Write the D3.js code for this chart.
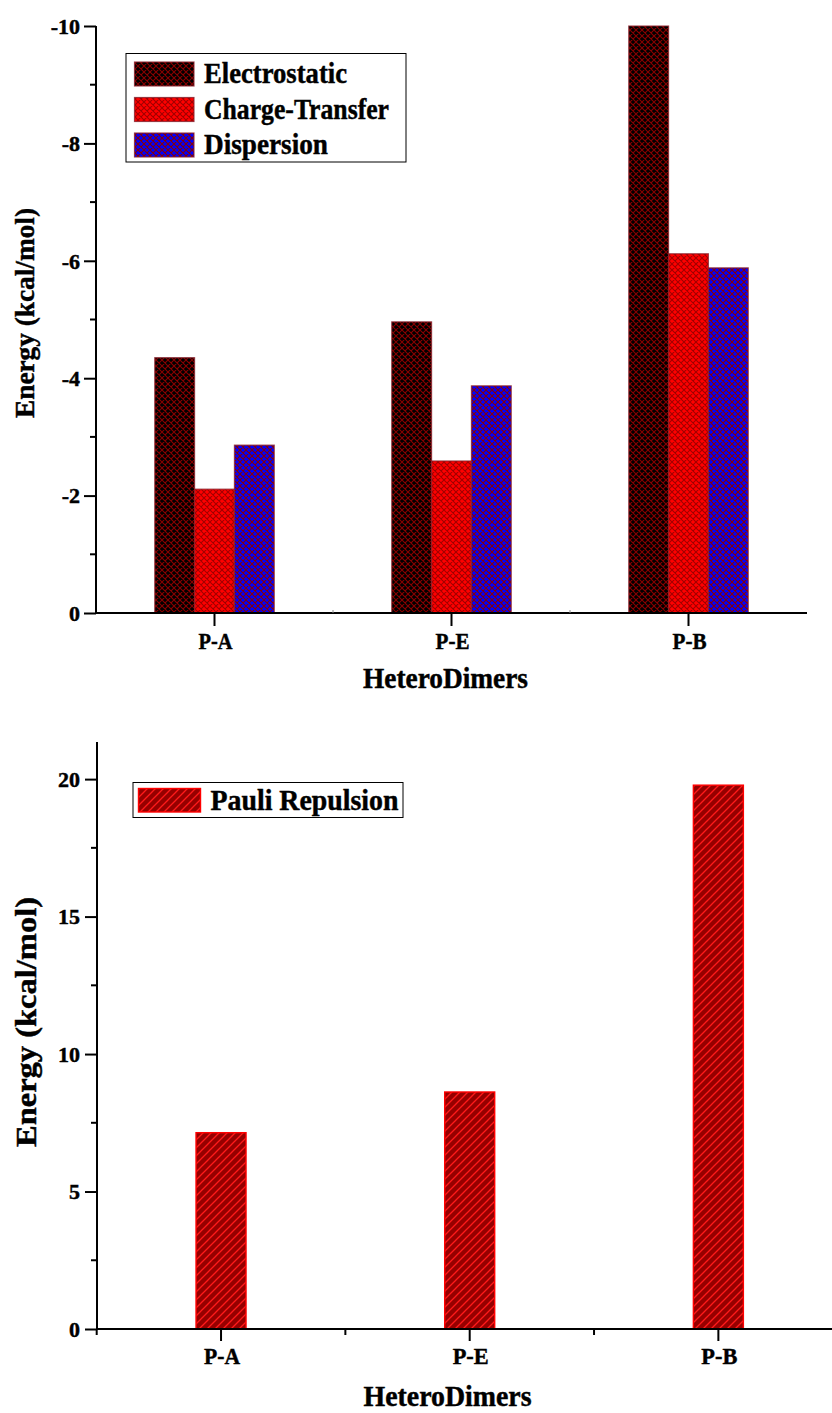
<!DOCTYPE html>
<html>
<head>
<meta charset="utf-8">
<script src="https://cdn.jsdelivr.net/npm/d3@7/dist/d3.min.js"></script>
<style>
  html, body { margin: 0; padding: 0; background: #fff; }
  svg { display: block; }
  text { font-family: "Liberation Serif", "Times New Roman", serif; font-weight: bold; fill: #000;
         stroke: #000; stroke-width: 0.45px; }
</style>
</head>
<body>
<svg id="chart" width="832" height="1413"></svg>
<script>
// HeteroDimer interaction energy decomposition (kcal/mol)
const categories = ["P-A", "P-E", "P-B"];
const seriesNames = ["Electrostatic", "Charge-Transfer", "Dispersion"];
const electrostatic = [-4.35, -4.96, -10.0];
const chargeTransfer = [-2.11, -2.59, -6.12];
const dispersion = [-2.86, -3.87, -5.88];
const pauliRepulsion = [7.14, 8.62, 19.78];
const topTicks = [0, -2, -4, -6, -8, -10];
const topMinorTicks = [-1, -3, -5, -7, -9];
const bottomTicks = [0, 5, 10, 15, 20];
const bottomMinorTicks = [2.5, 7.5, 12.5, 17.5];

// plain hyphen for negative tick labels
const fmt = d => String(d);

const svg = d3.select("#chart");
const defs = svg.append("defs");

// Cross-hatched fills for the attractive terms
function crossHatch(id, bg, line) {
  const p = defs.append("pattern").attr("id", id)
    .attr("patternUnits", "userSpaceOnUse").attr("width", 6).attr("height", 6);
  p.append("rect").attr("width", 6).attr("height", 6).attr("fill", bg);
  p.append("path")
    .attr("d", "M0,0L6,6M6,0L0,6M-1,5L1,7M5,-1L7,1M-1,1L1,-1M5,7L7,5")
    .attr("stroke", line).attr("stroke-width", 1.1).attr("fill", "none");
}
crossHatch("hatch-elec", "#000000", "#8a0000");
crossHatch("hatch-ct", "#ff0000", "#a00000");
crossHatch("hatch-disp", "#0000ff", "#8a0000");

// Diagonal stripes for Pauli repulsion
const stripe = defs.append("pattern").attr("id", "hatch-pauli")
  .attr("patternUnits", "userSpaceOnUse").attr("width", 8).attr("height", 8);
stripe.append("rect").attr("width", 8).attr("height", 8).attr("fill", "#960000");
stripe.append("path").attr("d", "M0,8L8,0M-2,2L2,-2M6,10L10,6")
  .attr("stroke", "#ff1a1a").attr("stroke-width", 1.3).attr("fill", "none");

const fills = ["url(#hatch-elec)", "url(#hatch-ct)", "url(#hatch-disp)"];
const seriesValues = [electrostatic, chargeTransfer, dispersion];

function label(g, txt, x, y, size, len, anchor) {
  const t = g.append("text").attr("x", x).attr("y", y)
    .attr("font-size", size).attr("text-anchor", anchor || "start").text(txt);
  if (len) t.attr("textLength", len).attr("lengthAdjust", "spacingAndGlyphs");
  return t;
}

function styleTicks(ax) {
  ax.selectAll(".tick line").attr("stroke-width", 2);
  ax.selectAll(".tick text").attr("font-size", 22).attr("dy", "0.33em")
    .attr("fill", "#000");
}

/* ---------- Upper panel: attractive components ---------- */
const upper = svg.append("g");
const yTop = d3.scaleLinear().domain([0, -10]).range([613, 26]);
const xTop = d3.scaleBand().domain(categories).range([96, 807]).paddingInner(0).paddingOuter(0);
const subTop = d3.scaleBand().domain(seriesNames).range([0, 119.5]);

seriesNames.forEach((name, si) => {
  upper.append("g").selectAll("rect")
    .data(categories.map((c, i) => ({ c, v: seriesValues[si][i] })))
    .join("rect")
    .attr("x", d => xTop(d.c) + xTop.bandwidth() / 2 - 59.75 + subTop(name))
    .attr("width", subTop.bandwidth())
    .attr("y", d => yTop(d.v))
    .attr("height", d => yTop(0) - yTop(d.v))
    .attr("fill", fills[si])
    .attr("stroke", "#8a1f2a").attr("stroke-opacity", 0.75).attr("stroke-width", 1.2);
});

// y axis
const yAxT = upper.append("g").attr("transform", "translate(96,0)")
  .call(d3.axisLeft(yTop).tickValues(topTicks).tickSize(12).tickPadding(4).tickFormat(fmt));
yAxT.select(".domain").attr("stroke-width", 2).attr("d", `M0,${yTop(-10)}V${yTop(0)}`);
styleTicks(yAxT);
upper.append("g").selectAll("line").data(topMinorTicks).join("line")
  .attr("x1", 90).attr("x2", 96).attr("y1", d => yTop(d)).attr("y2", d => yTop(d))
  .attr("stroke", "#000").attr("stroke-width", 2);

// x axis
upper.append("line").attr("x1", 95).attr("x2", 807).attr("y1", 613).attr("y2", 613)
  .attr("stroke", "#000").attr("stroke-width", 2.2);
upper.append("g").selectAll("line").data(categories).join("line")
  .attr("x1", d => xTop(d) + xTop.bandwidth() / 2).attr("x2", d => xTop(d) + xTop.bandwidth() / 2)
  .attr("y1", 613).attr("y2", 626).attr("stroke", "#000").attr("stroke-width", 2);
upper.append("g").selectAll("line").data(categories.slice(1)).join("line")
  .attr("x1", d => xTop(d)).attr("x2", d => xTop(d))
  .attr("y1", 610).attr("y2", 613).attr("stroke", "#888").attr("stroke-width", 1);
categories.forEach(c => label(upper, c, xTop(c) + xTop.bandwidth() / 2 + 1, 649, 24, 34, "middle"));

label(upper, "HeteroDimers", 445.5, 688, 29, 165, "middle");
label(upper, "Energy (kcal/mol)", 0, 0, 28, 210, "middle")
  .attr("transform", "translate(34,313) rotate(-90)");

// legend
const lgT = upper.append("g");
lgT.append("rect").attr("x", 126).attr("y", 53.5).attr("width", 280).attr("height", 108.5)
  .attr("fill", "#fff").attr("stroke", "#000").attr("stroke-width", 1);
const legendWidths = [143, 185, 124];
seriesNames.forEach((name, i) => {
  const cy = 74 + i * 35.5;
  lgT.append("rect").attr("x", 134.5).attr("y", cy - 12).attr("width", 59.5).attr("height", 24)
    .attr("fill", fills[i]).attr("stroke", "#8a1f2a").attr("stroke-opacity", 0.8).attr("stroke-width", 1.2);
  label(lgT, name, 204, cy + 9, 30, legendWidths[i]);
});

/* ---------- Lower panel: Pauli repulsion ---------- */
const lower = svg.append("g");
const yBot = d3.scaleLinear().domain([0, 21.35]).range([1329, 742]);
const xBot = d3.scaleBand().domain(categories).range([96.7, 842.7]).paddingInner(0).paddingOuter(0);

lower.append("g").selectAll("rect")
  .data(categories.map((c, i) => ({ c, v: pauliRepulsion[i] })))
  .join("rect")
  .attr("x", d => xBot(d.c) + xBot.bandwidth() / 2 - 25)
  .attr("width", 50)
  .attr("y", d => yBot(d.v))
  .attr("height", d => yBot(0) - yBot(d.v))
  .attr("fill", "url(#hatch-pauli)")
  .attr("stroke", "#ff0000").attr("stroke-width", 1.4);

const yAxB = lower.append("g").attr("transform", "translate(97,0)")
  .call(d3.axisLeft(yBot).tickValues(bottomTicks).tickSize(12).tickPadding(5).tickFormat(fmt));
yAxB.select(".domain").attr("stroke-width", 2).attr("d", `M0,742V1329`);
styleTicks(yAxB);
lower.append("g").selectAll("line").data(bottomMinorTicks).join("line")
  .attr("x1", 91).attr("x2", 97).attr("y1", d => yBot(d)).attr("y2", d => yBot(d))
  .attr("stroke", "#000").attr("stroke-width", 2);

lower.append("line").attr("x1", 96).attr("x2", 832).attr("y1", 1329).attr("y2", 1329)
  .attr("stroke", "#000").attr("stroke-width", 2.2);
lower.append("g").selectAll("line").data(categories).join("line")
  .attr("x1", d => xBot(d) + xBot.bandwidth() / 2).attr("x2", d => xBot(d) + xBot.bandwidth() / 2)
  .attr("y1", 1329).attr("y2", 1341).attr("stroke", "#000").attr("stroke-width", 2);
lower.append("g").selectAll("line").data(categories).join("line")
  .attr("x1", d => xBot(d)).attr("x2", d => xBot(d))
  .attr("y1", 1329).attr("y2", 1335).attr("stroke", "#000").attr("stroke-width", 2);
categories.forEach(c => label(lower, c, xBot(c) + xBot.bandwidth() / 2 + 1, 1364, 24, 36, "middle"));

label(lower, "HeteroDimers", 447.5, 1406, 29, 168, "middle");
label(lower, "Energy (kcal/mol)", 0, 0, 30, 250, "middle")
  .attr("transform", "translate(36,1022) rotate(-90)");

const lgB = lower.append("g");
lgB.append("rect").attr("x", 133).attr("y", 782.5).attr("width", 270).attr("height", 35)
  .attr("fill", "#fff").attr("stroke", "#000").attr("stroke-width", 1);
lgB.append("rect").attr("x", 138.5).attr("y", 788.5).attr("width", 62).attr("height", 23.5)
  .attr("fill", "url(#hatch-pauli)").attr("stroke", "#ff0000").attr("stroke-width", 1.4);
label(lgB, "Pauli Repulsion", 210.5, 810, 30, 188);
</script>
</body>
</html>
